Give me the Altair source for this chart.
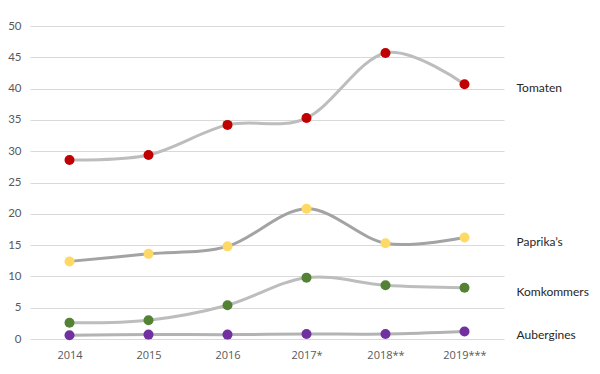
import altair as alt
import pandas as pd

years = ["2014", "2015", "2016", "2017*", "2018**", "2019***"]
series = ["Tomaten", "Paprika\u2019s", "Komkommers", "Aubergines"]
tomaten = [28.6, 29.4, 34.2, 35.3, 45.7, 40.7]
paprikas = [12.4, 13.6, 14.8, 20.8, 15.3, 16.2]
komkommers = [2.6, 3.0, 5.4, 9.8, 8.6, 8.2]
aubergines = [0.6, 0.7, 0.7, 0.8, 0.8, 1.2]

values = [tomaten, paprikas, komkommers, aubergines]
rows = []
for s, vals in zip(series, values):
    for y, v in zip(years, vals):
        rows.append({"year": y, "series": s, "value": v})
df = pd.DataFrame(rows)
last = df[df["year"] == years[-1]]

line_colors = ["#bdbdbd", "#a3a3a3", "#bdbdbd", "#b3b3b3"]
dot_colors = ["#c00000", "#ffd966", "#548235", "#7030a0"]
FONT = "Lato"

x_enc = alt.X("year:N", sort=years, scale=alt.Scale(type="point", padding=0.5),
              axis=alt.Axis(title=None, labelAngle=0, ticks=False, domain=False,
                            labelPadding=10, labelFontSize=11, labelColor="#595959",
                            labelFont="Open Sans"))
y_enc = alt.Y("value:Q", scale=alt.Scale(domain=[0, 50], nice=False),
              axis=alt.Axis(title=None, values=list(range(0, 51, 5)), ticks=False,
                            domain=False, labelPadding=9, labelFontSize=11.5,
                            labelColor="#595959", labelFont=FONT,
                            gridColor="#d9d9d9", gridWidth=1))

base = alt.Chart(df)
lines = base.mark_line(interpolate="cardinal", strokeWidth=3).encode(
    x=x_enc, y=y_enc,
    color=alt.Color("series:N", scale=alt.Scale(domain=series, range=line_colors), legend=None),
    detail="series:N",
)
dots = base.mark_point(filled=True, opacity=1, size=100).encode(
    x=x_enc, y=y_enc,
    fill=alt.Fill("series:N", scale=alt.Scale(domain=series, range=dot_colors), legend=None),
)
labels = alt.Chart(last).mark_text(align="left", baseline="middle", dx=52, dy=4,
                                   fontSize=12, font=FONT, color="#262626").encode(
    x=x_enc, y=y_enc, text="series:N",
)

chart = alt.layer(lines, dots, labels).properties(
    width=474, height=313,
    autosize=alt.AutoSizeParams(type="none"),
    padding={"left": 22, "top": 18, "right": 88, "bottom": 27},
).configure_view(stroke=None).resolve_scale(color="independent", fill="independent")

chart.save("out.html", embed_options={"renderer": "svg", "actions": False})
